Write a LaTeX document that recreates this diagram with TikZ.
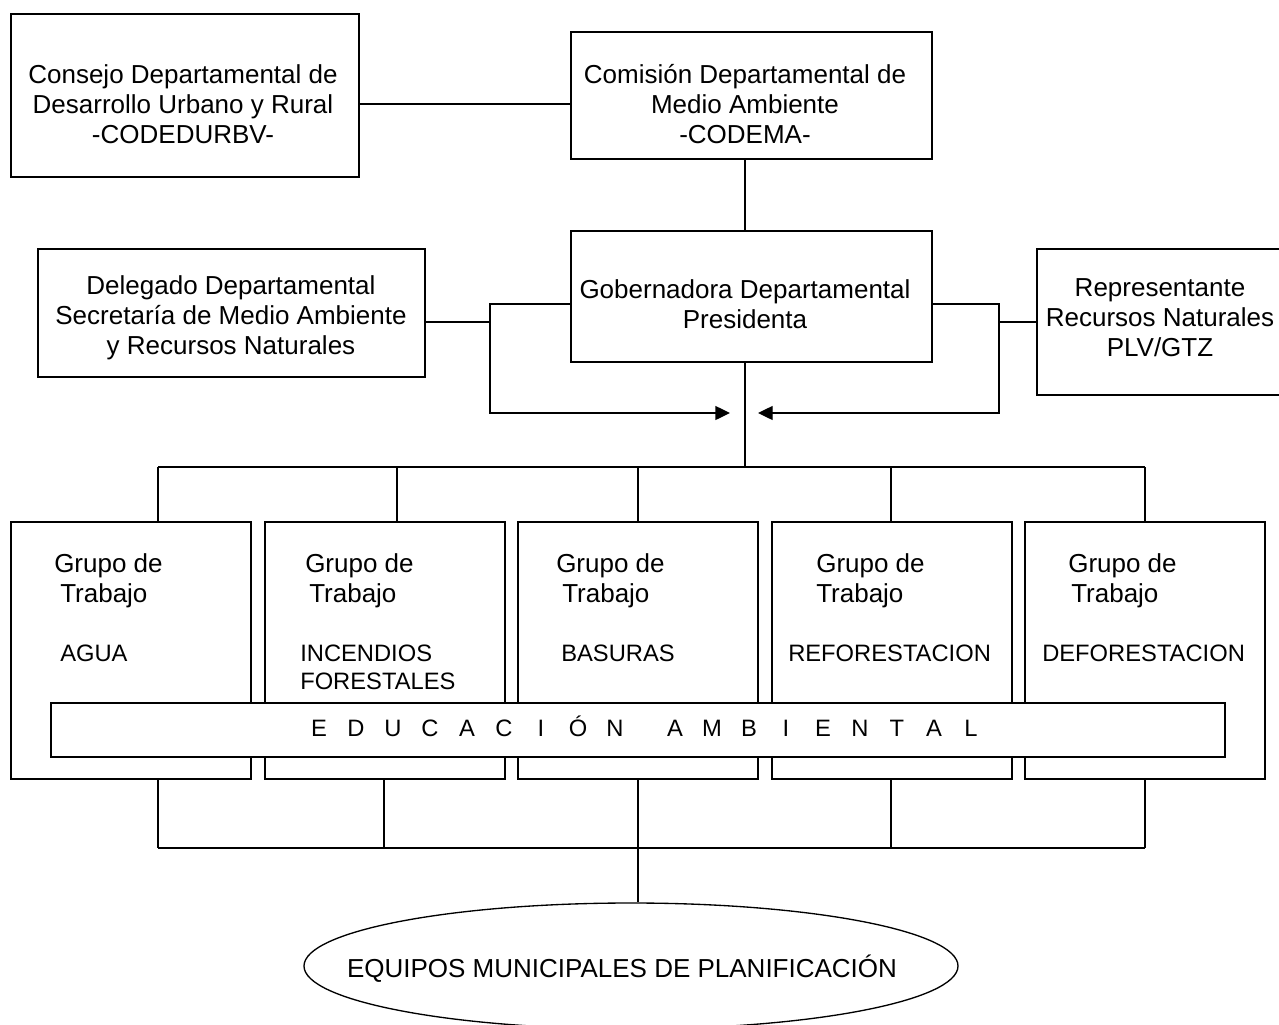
\documentclass[tikz,border=0pt]{standalone}
\usepackage{fontspec}
\setmainfont{Liberation Sans}
\usetikzlibrary{arrows.meta,shapes.geometric}
\newcommand\lsp[1]{\makebox[27.75pt]{#1}}
\begin{document}
\begin{tikzpicture}[x=0.75pt,y=-0.75pt,
 box/.style={draw, line width=1.5pt, inner sep=0pt, outer sep=0pt, fill=white},
 conn/.style={line width=1pt},
 big/.style={font=\fontsize{19.5pt}{22.5pt}\selectfont, align=center, inner sep=0pt},
 gt/.style={font=\fontsize{19.5pt}{22.5pt}\selectfont, inner sep=0pt, anchor=base west},
 st/.style={font=\fontsize{17.8pt}{22pt}\selectfont, inner sep=0pt, anchor=base west},
 arr/.style={conn, -{Triangle[length=11pt,width=10.5pt]}}
]
\useasboundingbox (0,0) rectangle (1279,1025);

% boxes
\node[box, minimum width=261pt, minimum height=122.25pt] (consejo) at (185,95.5) {};
\node[box, minimum width=270.75pt, minimum height=95.25pt] (comision) at (751.5,95.5) {};
\node[box, minimum width=270.75pt, minimum height=98.25pt] (gob) at (751.5,296.5) {};
\node[box, minimum width=290.6pt, minimum height=96pt] (deleg) at (231.25,313) {};
\node[box, minimum width=186pt, minimum height=109.5pt] (repr) at (1161,322) {};

\node[box, minimum width=180pt, minimum height=192.75pt] (g1) at (131,650.5) {};
\node[box, minimum width=180pt, minimum height=192.75pt] (g2) at (384.5,650.5) {};
\node[box, minimum width=180pt, minimum height=192.75pt] (g3) at (638,650.5) {};
\node[box, minimum width=180pt, minimum height=192.75pt] (g4) at (891.5,650.5) {};
\node[box, minimum width=180pt, minimum height=192.75pt] (g5) at (1145,650.5) {};

\node[box, minimum width=880.5pt, minimum height=40.5pt] (edu) at (638,730) {};
\node[draw, ellipse, line width=1pt, inner sep=0pt, minimum width=490.5pt, minimum height=94.5pt] (ell) at (631,966) {};

% helper coordinates
\coordinate (vx) at (745,0);
\coordinate (yc) at (0,104);
\coordinate (ya) at (0,304);
\coordinate (yb) at (0,322);
\coordinate (yarr) at (0,413);
\coordinate (lx) at (490,0);
\coordinate (rx) at (999,0);
\coordinate (ltip) at (730,413);
\coordinate (rtip) at (758,413);
\coordinate (bus1) at (0,467);
\coordinate (t1) at (158,467);
\coordinate (t2) at (397,467);
\coordinate (t3) at (638,467);
\coordinate (t4) at (891,467);
\coordinate (t5) at (1145,467);
\coordinate (b1) at (158,848);
\coordinate (b2) at (384,848);
\coordinate (b3) at (638,848);
\coordinate (b4) at (891,848);
\coordinate (b5) at (1145,848);

% connectors
\draw[conn] (consejo.east |- yc) -- (comision.west |- yc);
\draw[conn] (comision.south -| vx) -- (gob.north -| vx);
\draw[conn] (gob.south -| vx) -- (vx |- bus1);
\draw[conn] (deleg.east |- yb) -- (lx |- yb);
\draw[arr] (gob.west |- ya) -- (lx |- ya) -- (lx |- yarr) -- (ltip);
\draw[arr] (gob.east |- ya) -- (rx |- ya) -- (rx |- yarr) -- (rtip);
\draw[conn] (rx |- yb) -- (repr.west |- yb);

\draw[conn] (t1) -- (t5);
\draw[conn] (t1) -- (g1.north -| t1);
\draw[conn] (t2) -- (g2.north -| t2);
\draw[conn] (t3) -- (g3.north -| t3);
\draw[conn] (t4) -- (g4.north -| t4);
\draw[conn] (t5) -- (g5.north -| t5);

\draw[conn] (g1.south -| b1) -- (b1);
\draw[conn] (g2.south -| b2) -- (b2);
\draw[conn] (g3.south -| b3) -- (b3);
\draw[conn] (g4.south -| b4) -- (b4);
\draw[conn] (g5.south -| b5) -- (b5);
\draw[conn] (b1) -- (b5);
\draw[conn] (b3) -- (ell.north -| b3);

% texts
\node[big] (tconsejo) at (183,104) {Consejo Departamental de\\Desarrollo Urbano y Rural\\-CODEDURBV-};
\node[big] (tcomision) at (745,104) {Comisión Departamental de\\Medio Ambiente\\-CODEMA-};
\node[big] (tgob) at (745,304) {Gobernadora Departamental\\Presidenta};
\node[big] (tdeleg) at (231,318) {Delegado Departamental\\Secretaría de Medio Ambiente\\y Recursos Naturales};
\node[big] (trepr) at (1160,318) {Representante\\Recursos Naturales\\PLV/GTZ};

\node[gt] (g1a) at (54,572.7) {Grupo de};
\node[gt] (g1b) at (60,602.7) {Trabajo};
\node[st] (g1c) at (60,661.7) {AGUA};
\node[gt] (g2a) at (305,572.7) {Grupo de};
\node[gt] (g2b) at (309,602.7) {Trabajo};
\node[st] (g2c) at (300,661.7) {INCENDIOS};
\node[st] (g2d) at (300,689.3) {FORESTALES};
\node[gt] (g3a) at (556,572.7) {Grupo de};
\node[gt] (g3b) at (562,602.7) {Trabajo};
\node[st] (g3c) at (561,661.7) {BASURAS};
\node[gt] (g4a) at (816,572.7) {Grupo de};
\node[gt] (g4b) at (816,602.7) {Trabajo};
\node[st] (g4c) at (788,661.7) {REFORESTACION};
\node[gt] (g5a) at (1068,572.7) {Grupo de};
\node[gt] (g5b) at (1071,602.7) {Trabajo};
\node[st] (g5c) at (1042,661.7) {DEFORESTACION};

\node[font=\fontsize{17.8pt}{22pt}\selectfont, inner sep=0pt, anchor=base] (tedu) at (645,736)
 {\lsp{E}\lsp{D}\lsp{U}\lsp{C}\lsp{A}\lsp{C}\lsp{I}\lsp{Ó}\lsp{N}\hspace{17.25pt}\lsp{A}\lsp{M}\lsp{B}\lsp{I}\lsp{E}\lsp{N}\lsp{T}\lsp{A}\lsp{L}};
\node[font=\fontsize{19.5pt}{22.5pt}\selectfont, inner sep=0pt, anchor=base] (tell) at (622,977) {EQUIPOS MUNICIPALES DE PLANIFICACIÓN};
\end{tikzpicture}
\end{document}
